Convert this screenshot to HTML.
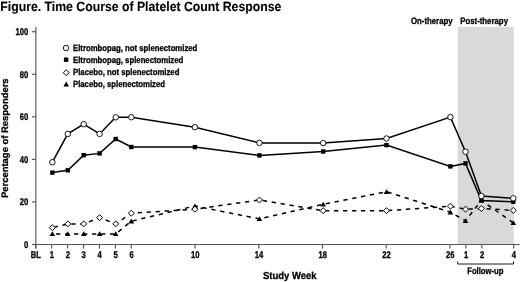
<!DOCTYPE html><html><head><meta charset="utf-8"><style>html,body{margin:0;padding:0;background:#fff;}svg{display:block;filter:blur(0.35px);}text{font-family:"Liberation Sans",sans-serif;font-weight:bold;text-rendering:geometricPrecision;stroke:#000;stroke-width:0.3px;}</style></head><body>
<svg width="520" height="282" viewBox="0 0 520 282">
<rect width="520" height="282" fill="#fff"/>
<rect x="457.7" y="26.8" width="56" height="217.5" fill="#d9d9d9"/>
<text x="0.3" y="10.7" font-size="13.3" style="stroke-width:0.1px" textLength="281" lengthAdjust="spacingAndGlyphs" fill="#000">Figure. Time Course of Platelet Count Response</text>
<text x="411" y="24.4" font-size="9.4" textLength="41.6" lengthAdjust="spacingAndGlyphs" fill="#000">On-therapy</text>
<text x="460.2" y="24.4" font-size="9.4" textLength="47.8" lengthAdjust="spacingAndGlyphs" fill="#000">Post-therapy</text>
<path d="M35.85 27 V248.6 M32 244.5 H519.5" stroke="#555" stroke-width="1.15" fill="none"/>
<path d="M32 244.50 H35.85" stroke="#555" stroke-width="1.15" fill="none"/>
<text transform="translate(28.2,247.90) scale(0.78,1)" font-size="9.8" text-anchor="end" fill="#000">0</text>
<path d="M32 201.94 H35.85" stroke="#555" stroke-width="1.15" fill="none"/>
<text transform="translate(28.2,205.34) scale(0.78,1)" font-size="9.8" text-anchor="end" fill="#000">20</text>
<path d="M32 159.38 H35.85" stroke="#555" stroke-width="1.15" fill="none"/>
<text transform="translate(28.2,162.78) scale(0.78,1)" font-size="9.8" text-anchor="end" fill="#000">40</text>
<path d="M32 116.82 H35.85" stroke="#555" stroke-width="1.15" fill="none"/>
<text transform="translate(28.2,120.22) scale(0.78,1)" font-size="9.8" text-anchor="end" fill="#000">60</text>
<path d="M32 74.26 H35.85" stroke="#555" stroke-width="1.15" fill="none"/>
<text transform="translate(28.2,77.66) scale(0.78,1)" font-size="9.8" text-anchor="end" fill="#000">80</text>
<path d="M32 31.70 H35.85" stroke="#555" stroke-width="1.15" fill="none"/>
<text transform="translate(28.2,35.10) scale(0.78,1)" font-size="9.8" text-anchor="end" fill="#000">100</text>
<text transform="translate(8.1,198) rotate(-90)" x="0" y="0" font-size="9.4" textLength="119.6" lengthAdjust="spacingAndGlyphs" fill="#000">Percentage of Responders</text>
<path d="M35.72 244.5 V248.6" stroke="#555" stroke-width="1.15" fill="none"/>
<text transform="translate(35.92,257.6) scale(0.78,1)" font-size="9.8" text-anchor="middle" fill="#000">BL</text>
<path d="M51.65 244.5 V248.6" stroke="#555" stroke-width="1.15" fill="none"/>
<text transform="translate(51.85,257.6) scale(0.78,1)" font-size="9.8" text-anchor="middle" fill="#000">1</text>
<path d="M67.58 244.5 V248.6" stroke="#555" stroke-width="1.15" fill="none"/>
<text transform="translate(67.78,257.6) scale(0.78,1)" font-size="9.8" text-anchor="middle" fill="#000">2</text>
<path d="M83.52 244.5 V248.6" stroke="#555" stroke-width="1.15" fill="none"/>
<text transform="translate(83.72,257.6) scale(0.78,1)" font-size="9.8" text-anchor="middle" fill="#000">3</text>
<path d="M99.45 244.5 V248.6" stroke="#555" stroke-width="1.15" fill="none"/>
<text transform="translate(99.65,257.6) scale(0.78,1)" font-size="9.8" text-anchor="middle" fill="#000">4</text>
<path d="M115.38 244.5 V248.6" stroke="#555" stroke-width="1.15" fill="none"/>
<text transform="translate(115.58,257.6) scale(0.78,1)" font-size="9.8" text-anchor="middle" fill="#000">5</text>
<path d="M131.31 244.5 V248.6" stroke="#555" stroke-width="1.15" fill="none"/>
<text transform="translate(131.51,257.6) scale(0.78,1)" font-size="9.8" text-anchor="middle" fill="#000">6</text>
<path d="M195.04 244.5 V248.6" stroke="#555" stroke-width="1.15" fill="none"/>
<text transform="translate(195.24,257.6) scale(0.78,1)" font-size="9.8" text-anchor="middle" fill="#000">10</text>
<path d="M258.77 244.5 V248.6" stroke="#555" stroke-width="1.15" fill="none"/>
<text transform="translate(258.97,257.6) scale(0.78,1)" font-size="9.8" text-anchor="middle" fill="#000">14</text>
<path d="M322.50 244.5 V248.6" stroke="#555" stroke-width="1.15" fill="none"/>
<text transform="translate(322.70,257.6) scale(0.78,1)" font-size="9.8" text-anchor="middle" fill="#000">18</text>
<path d="M386.22 244.5 V248.6" stroke="#555" stroke-width="1.15" fill="none"/>
<text transform="translate(386.42,257.6) scale(0.78,1)" font-size="9.8" text-anchor="middle" fill="#000">22</text>
<path d="M449.95 244.5 V248.6" stroke="#555" stroke-width="1.15" fill="none"/>
<text transform="translate(450.15,257.6) scale(0.78,1)" font-size="9.8" text-anchor="middle" fill="#000">26</text>
<path d="M465.88 244.5 V248.6" stroke="#555" stroke-width="1.15" fill="none"/>
<text transform="translate(466.08,257.6) scale(0.78,1)" font-size="9.8" text-anchor="middle" fill="#000">1</text>
<path d="M481.82 244.5 V248.6" stroke="#555" stroke-width="1.15" fill="none"/>
<text transform="translate(482.02,257.6) scale(0.78,1)" font-size="9.8" text-anchor="middle" fill="#000">2</text>
<path d="M513.68 244.5 V248.6" stroke="#555" stroke-width="1.15" fill="none"/>
<text transform="translate(513.88,257.6) scale(0.78,1)" font-size="9.8" text-anchor="middle" fill="#000">4</text>
<path d="M457.7 261.4 V264 H513.5 V261.4" stroke="#1a1a1a" stroke-width="1" fill="none"/>
<text x="467.2" y="273.7" font-size="9.4" textLength="36.3" lengthAdjust="spacingAndGlyphs" fill="#000">Follow-up</text>
<text x="262.9" y="279.3" font-size="10.2" textLength="53.6" lengthAdjust="spacingAndGlyphs" fill="#000">Study Week</text>
<polyline points="52.35,227.70 67.80,223.90 83.70,223.90 99.60,217.70 115.70,223.90 131.30,213.20 194.90,209.20 259.45,200.00 323.20,210.70 386.50,210.70 450.40,206.20 465.50,209.20 481.40,208.50 513.30,210.40" stroke="#000" stroke-width="1.5" fill="none" stroke-dasharray="4.3 4.7" stroke-dashoffset="7.6"/>
<polyline points="52.35,233.90 67.80,233.90 83.70,233.90 99.60,233.90 115.70,233.90 131.30,221.20 194.90,206.00 259.45,218.90 323.20,204.30 386.50,191.70 450.40,212.20 465.50,220.80 481.40,200.40 513.30,222.90" stroke="#000" stroke-width="1.5" fill="none" stroke-dasharray="4.3 4.7" stroke-dashoffset="5.35"/>
<polyline points="52.35,162.20 67.80,133.90 83.70,124.20 99.60,133.90 115.70,117.30 131.30,117.20 194.90,127.20 259.45,142.90 323.20,143.10 386.50,138.50 450.40,117.10 465.50,151.70 481.40,196.00 513.30,198.30" stroke="#000" stroke-width="1.5" fill="none"/>
<polyline points="52.35,172.60 67.80,170.30 83.70,155.20 99.60,153.40 115.70,139.00 131.30,147.00 194.90,147.10 259.45,155.40 323.20,151.50 386.50,145.10 450.40,166.40 465.50,163.40 481.40,200.40 513.30,201.70" stroke="#000" stroke-width="1.5" fill="none"/>
<path d="M52.35 231.30 L55.15 236.10 L49.55 236.10Z" fill="#000"/>
<path d="M67.80 231.30 L70.60 236.10 L65.00 236.10Z" fill="#000"/>
<path d="M83.70 231.30 L86.50 236.10 L80.90 236.10Z" fill="#000"/>
<path d="M99.60 231.30 L102.40 236.10 L96.80 236.10Z" fill="#000"/>
<path d="M115.70 231.30 L118.50 236.10 L112.90 236.10Z" fill="#000"/>
<path d="M131.30 218.60 L134.10 223.40 L128.50 223.40Z" fill="#000"/>
<path d="M194.90 203.40 L197.70 208.20 L192.10 208.20Z" fill="#000"/>
<path d="M259.45 216.30 L262.25 221.10 L256.65 221.10Z" fill="#000"/>
<path d="M323.20 201.70 L326.00 206.50 L320.40 206.50Z" fill="#000"/>
<path d="M386.50 189.10 L389.30 193.90 L383.70 193.90Z" fill="#000"/>
<path d="M450.40 209.60 L453.20 214.40 L447.60 214.40Z" fill="#000"/>
<path d="M465.50 218.20 L468.30 223.00 L462.70 223.00Z" fill="#000"/>
<path d="M481.40 197.80 L484.20 202.60 L478.60 202.60Z" fill="#000"/>
<path d="M513.30 220.30 L516.10 225.10 L510.50 225.10Z" fill="#000"/>
<path d="M52.35 224.70 L55.35 227.70 L52.35 230.70 L49.35 227.70Z" fill="#fff" stroke="#000" stroke-width="1"/>
<path d="M67.80 220.90 L70.80 223.90 L67.80 226.90 L64.80 223.90Z" fill="#fff" stroke="#000" stroke-width="1"/>
<path d="M83.70 220.90 L86.70 223.90 L83.70 226.90 L80.70 223.90Z" fill="#fff" stroke="#000" stroke-width="1"/>
<path d="M99.60 214.70 L102.60 217.70 L99.60 220.70 L96.60 217.70Z" fill="#fff" stroke="#000" stroke-width="1"/>
<path d="M115.70 220.90 L118.70 223.90 L115.70 226.90 L112.70 223.90Z" fill="#fff" stroke="#000" stroke-width="1"/>
<path d="M131.30 210.20 L134.30 213.20 L131.30 216.20 L128.30 213.20Z" fill="#fff" stroke="#000" stroke-width="1"/>
<path d="M194.90 206.20 L197.90 209.20 L194.90 212.20 L191.90 209.20Z" fill="#fff" stroke="#000" stroke-width="1"/>
<path d="M259.45 197.00 L262.45 200.00 L259.45 203.00 L256.45 200.00Z" fill="#fff" stroke="#000" stroke-width="1"/>
<path d="M323.20 207.70 L326.20 210.70 L323.20 213.70 L320.20 210.70Z" fill="#fff" stroke="#000" stroke-width="1"/>
<path d="M386.50 207.70 L389.50 210.70 L386.50 213.70 L383.50 210.70Z" fill="#fff" stroke="#000" stroke-width="1"/>
<path d="M450.40 203.20 L453.40 206.20 L450.40 209.20 L447.40 206.20Z" fill="#fff" stroke="#000" stroke-width="1"/>
<path d="M465.50 206.20 L468.50 209.20 L465.50 212.20 L462.50 209.20Z" fill="#fff" stroke="#000" stroke-width="1"/>
<path d="M481.40 205.50 L484.40 208.50 L481.40 211.50 L478.40 208.50Z" fill="#fff" stroke="#000" stroke-width="1"/>
<path d="M513.30 207.40 L516.30 210.40 L513.30 213.40 L510.30 210.40Z" fill="#fff" stroke="#000" stroke-width="1"/>
<rect x="50.15" y="170.40" width="4.4" height="4.4" fill="#000"/>
<rect x="65.60" y="168.10" width="4.4" height="4.4" fill="#000"/>
<rect x="81.50" y="153.00" width="4.4" height="4.4" fill="#000"/>
<rect x="97.40" y="151.20" width="4.4" height="4.4" fill="#000"/>
<rect x="113.50" y="136.80" width="4.4" height="4.4" fill="#000"/>
<rect x="129.10" y="144.80" width="4.4" height="4.4" fill="#000"/>
<rect x="192.70" y="144.90" width="4.4" height="4.4" fill="#000"/>
<rect x="257.25" y="153.20" width="4.4" height="4.4" fill="#000"/>
<rect x="321.00" y="149.30" width="4.4" height="4.4" fill="#000"/>
<rect x="384.30" y="142.90" width="4.4" height="4.4" fill="#000"/>
<rect x="448.20" y="164.20" width="4.4" height="4.4" fill="#000"/>
<rect x="463.30" y="161.20" width="4.4" height="4.4" fill="#000"/>
<rect x="479.20" y="198.20" width="4.4" height="4.4" fill="#000"/>
<rect x="511.10" y="199.50" width="4.4" height="4.4" fill="#000"/>
<circle cx="52.35" cy="162.20" r="2.75" fill="#fff" stroke="#000" stroke-width="0.9"/>
<circle cx="67.80" cy="133.90" r="2.75" fill="#fff" stroke="#000" stroke-width="0.9"/>
<circle cx="83.70" cy="124.20" r="2.75" fill="#fff" stroke="#000" stroke-width="0.9"/>
<circle cx="99.60" cy="133.90" r="2.75" fill="#fff" stroke="#000" stroke-width="0.9"/>
<circle cx="115.70" cy="117.30" r="2.75" fill="#fff" stroke="#000" stroke-width="0.9"/>
<circle cx="131.30" cy="117.20" r="2.75" fill="#fff" stroke="#000" stroke-width="0.9"/>
<circle cx="194.90" cy="127.20" r="2.75" fill="#fff" stroke="#000" stroke-width="0.9"/>
<circle cx="259.45" cy="142.90" r="2.75" fill="#fff" stroke="#000" stroke-width="0.9"/>
<circle cx="323.20" cy="143.10" r="2.75" fill="#fff" stroke="#000" stroke-width="0.9"/>
<circle cx="386.50" cy="138.50" r="2.75" fill="#fff" stroke="#000" stroke-width="0.9"/>
<circle cx="450.40" cy="117.10" r="2.75" fill="#fff" stroke="#000" stroke-width="0.9"/>
<circle cx="465.50" cy="151.70" r="2.75" fill="#fff" stroke="#000" stroke-width="0.9"/>
<circle cx="481.40" cy="196.00" r="2.75" fill="#fff" stroke="#000" stroke-width="0.9"/>
<circle cx="513.30" cy="198.30" r="2.75" fill="#fff" stroke="#000" stroke-width="0.9"/>
<circle cx="66.00" cy="48.00" r="2.75" fill="#fff" stroke="#000" stroke-width="0.9"/>
<rect x="63.90" y="57.50" width="4.4" height="4.4" fill="#000"/>
<path d="M66.20 69.70 L69.20 72.70 L66.20 75.70 L63.20 72.70Z" fill="#fff" stroke="#000" stroke-width="1"/>
<path d="M66.20 81.60 L69.00 86.40 L63.40 86.40Z" fill="#000"/>
<text x="73" y="51.2" font-size="9" textLength="124.3" lengthAdjust="spacingAndGlyphs" fill="#000">Eltrombopag, not splenectomized</text>
<text x="73" y="63.1" font-size="9" textLength="110.3" lengthAdjust="spacingAndGlyphs" fill="#000">Eltrombopag, splenectomized</text>
<text x="73" y="75.1" font-size="9" textLength="106.4" lengthAdjust="spacingAndGlyphs" fill="#000">Placebo, not splenectomized</text>
<text x="73" y="87.1" font-size="9" textLength="92" lengthAdjust="spacingAndGlyphs" fill="#000">Placebo, splenectomized</text>
</svg></body></html>
